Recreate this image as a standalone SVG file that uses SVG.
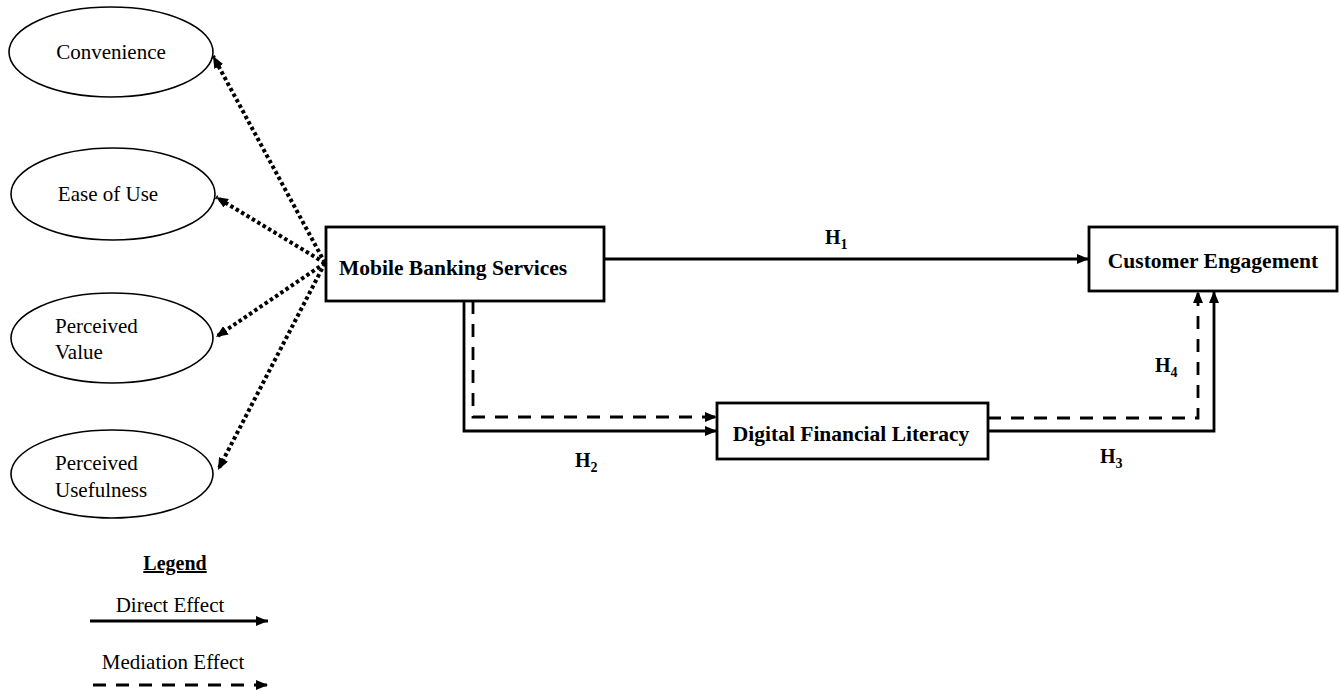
<svg xmlns="http://www.w3.org/2000/svg" width="1340" height="690" viewBox="0 0 1340 690">
<style>
.ell{fill:#fff;stroke:#000;stroke-width:1.6}
.box{fill:#fff;stroke:#000;stroke-width:2.8}
.t{font-family:"Liberation Serif","Times New Roman",serif;font-size:21px;fill:#000}
.b{font-family:"Liberation Serif","Times New Roman",serif;font-size:21.5px;font-weight:bold;fill:#000}
.h{font-family:"Liberation Serif","Times New Roman",serif;font-size:20px;font-weight:bold;fill:#000}
.solid{fill:none;stroke:#000;stroke-width:2.8}
.dash{fill:none;stroke:#000;stroke-width:2.8;stroke-dasharray:13 10}
.dot{fill:none;stroke:#000;stroke-width:4;stroke-dasharray:3.5 2.8}
</style>
<defs>
<marker id="ah" markerUnits="userSpaceOnUse" markerWidth="12" markerHeight="10" refX="12" refY="5" orient="auto"><path d="M0,0 L12,5 L0,10 z" fill="#000"/></marker>
</defs>
<rect width="1340" height="690" fill="#fff"/>
<g id="connectors">
<line class="dot" x1="325" y1="263" x2="213" y2="56" marker-end="url(#ah)"/>
<line class="dot" x1="325" y1="263" x2="216" y2="197" marker-end="url(#ah)"/>
<line class="dot" x1="325" y1="263" x2="216" y2="337" marker-end="url(#ah)"/>
<line class="dot" x1="325" y1="263" x2="218" y2="470" marker-end="url(#ah)"/>
<line class="solid" x1="604" y1="259" x2="1089" y2="259" marker-end="url(#ah)"/>
<path class="solid" d="M464,301 V431 H717" marker-end="url(#ah)"/>
<path class="dash" d="M473,301 V417 H717" marker-end="url(#ah)"/>
<path class="solid" d="M988,431 H1214 V291" marker-end="url(#ah)"/>
<path class="dash" d="M988,418 H1198 V291" marker-end="url(#ah)"/>
<text class="h" x="825" y="244">H<tspan font-size="14" dy="5">1</tspan></text>
<text class="h" x="575" y="467">H<tspan font-size="14" dy="5">2</tspan></text>
<text class="h" x="1100" y="463">H<tspan font-size="14" dy="5">3</tspan></text>
<text class="h" x="1155" y="372">H<tspan font-size="14" dy="5">4</tspan></text>
</g>
<g id="convenience">
<ellipse class="ell" cx="111" cy="52" rx="102" ry="45"/>
<text class="t" x="111" y="59" text-anchor="middle">Convenience</text>
</g>
<g id="ease-of-use">
<ellipse class="ell" cx="113" cy="194" rx="102" ry="46"/>
<text class="t" x="108" y="201" text-anchor="middle">Ease of Use</text>
</g>
<g id="perceived-value">
<ellipse class="ell" cx="112" cy="338" rx="101" ry="45"/>
<text class="t" x="55" y="333">Perceived</text>
<text class="t" x="55" y="359">Value</text>
</g>
<g id="perceived-usefulness">
<ellipse class="ell" cx="112" cy="474" rx="101" ry="44"/>
<text class="t" x="55" y="470">Perceived</text>
<text class="t" x="55" y="497">Usefulness</text>
</g>
<g id="mobile-banking-services">
<rect class="box" x="326" y="227" width="278" height="74"/>
<text class="b" x="339" y="275">Mobile Banking Services</text>
</g>
<g id="customer-engagement">
<rect class="box" x="1089" y="227" width="248" height="64"/>
<text class="b" x="1213" y="268" text-anchor="middle">Customer Engagement</text>
</g>
<g id="digital-financial-literacy">
<rect class="box" x="717" y="403" width="271" height="56"/>
<text class="b" x="851" y="441" text-anchor="middle">Digital Financial Literacy</text>
</g>
<g id="legend">
<text class="h" x="175" y="570" text-anchor="middle" text-decoration="underline">Legend</text>
<text class="t" x="170" y="612" text-anchor="middle" font-size="20">Direct Effect</text>
<line class="solid" x1="90" y1="621" x2="268" y2="621" marker-end="url(#ah)"/>
<text class="t" x="173" y="669" text-anchor="middle" font-size="20">Mediation Effect</text>
<line class="dash" x1="93" y1="685" x2="268" y2="685" marker-end="url(#ah)"/>
</g>
</svg>
